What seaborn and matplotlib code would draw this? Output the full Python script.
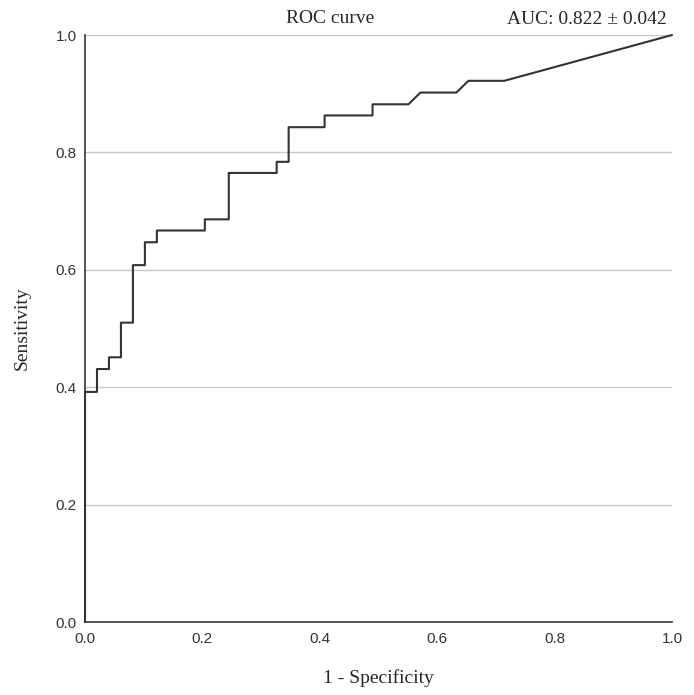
import pandas as pd
import matplotlib
matplotlib.use("Agg")
import matplotlib.pyplot as plt
import seaborn as sns

# ROC curve points (1 - specificity, sensitivity)
fpr = [0.0, 0.0, 0.0204, 0.0204, 0.0408, 0.0408, 0.0612, 0.0612, 0.0816, 0.0816,
       0.102, 0.102, 0.1224, 0.1224, 0.2041, 0.2041, 0.2449, 0.2449, 0.3265, 0.3265,
       0.3469, 0.3469, 0.4082, 0.4082, 0.4898, 0.4898, 0.551, 0.5714, 0.6327, 0.6531,
       0.7143, 1.0]
tpr = [0.0, 0.392, 0.392, 0.431, 0.431, 0.451, 0.451, 0.51, 0.51, 0.608,
       0.608, 0.647, 0.647, 0.667, 0.667, 0.686, 0.686, 0.765, 0.765, 0.784,
       0.784, 0.843, 0.843, 0.863, 0.863, 0.882, 0.882, 0.902, 0.902, 0.922,
       0.922, 1.0]
ticks = [0.0, 0.2, 0.4, 0.6, 0.8, 1.0]
auc_text = "AUC: 0.822 \u00b1 0.042"

df = pd.DataFrame({"fpr": fpr, "tpr": tpr})

sns.set_style("white")
serif = ["Liberation Serif", "DejaVu Serif"]

fig = plt.figure(figsize=(6.94, 6.95), dpi=100)
ax = fig.add_axes([0.1225, 0.105, 0.8458, 0.8446])

sns.lineplot(data=df, x="fpr", y="tpr", sort=False, estimator=None,
             color="#333333", linewidth=1.5, ax=ax, zorder=3, clip_on=False)

ax.set_xlim(0, 1)
ax.set_ylim(0, 1)
ax.set_xticks(ticks)
ax.set_yticks(ticks)
ax.set_xticklabels([f"{t:.1f}" for t in ticks], family="Liberation Sans", fontsize=11, color="#333333")
ax.set_yticklabels([f"{t:.1f}" for t in ticks], family="Liberation Sans", fontsize=11, color="#333333")
ax.tick_params(axis="x", length=0, pad=7)
ax.tick_params(axis="y", length=0, pad=6)

ax.yaxis.grid(True, color="#c8c8c8", linewidth=1.0)
ax.xaxis.grid(False)
ax.set_axisbelow(True)

for side in ["top", "right"]:
    ax.spines[side].set_visible(False)
for side in ["left", "bottom"]:
    ax.spines[side].set_color("#444444")
    ax.spines[side].set_linewidth(1.3)

ax.set_xlabel("1 - Specificity", family=serif, fontsize=14, labelpad=17)
ax.set_ylabel("Sensitivity", family=serif, fontsize=14, labelpad=18)

ax.text(0.417, 1.014, "ROC curve", transform=ax.transAxes, ha="center", va="bottom",
        family=serif, fontsize=14)
ax.text(0.991, 1.012, auc_text, transform=ax.transAxes, ha="right", va="bottom",
        family=serif, fontsize=14)

fig.savefig("out.png", dpi=100, facecolor="white")
